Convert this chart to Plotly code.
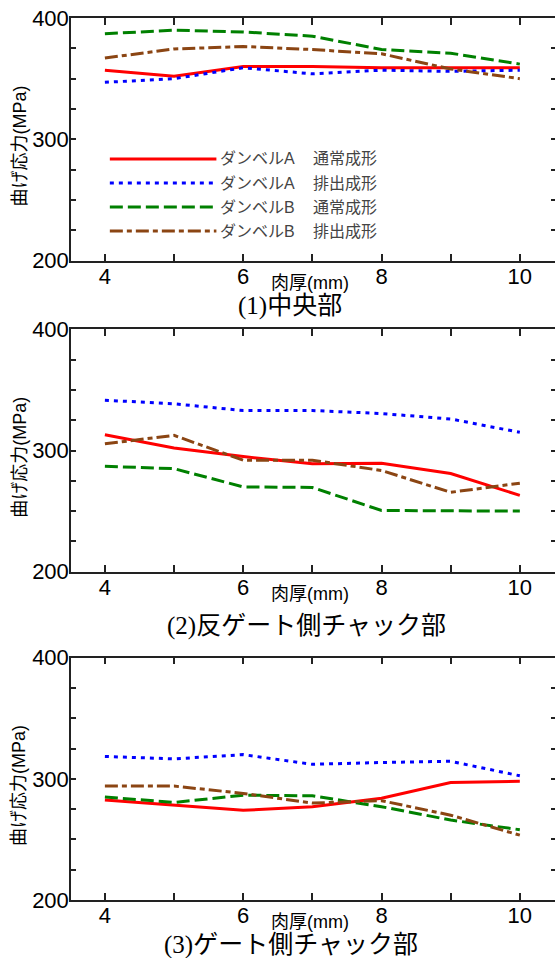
import plotly.graph_objects as go

# ---------------- data ----------------
thickness = [4, 5, 6, 7, 8, 9, 10]
x_tick_vals = [4, 5, 6, 7, 8, 9, 10]
x_tick_text = ["4", "", "6", "", "8", "", "10"]
y_tick_vals = [200, 225, 250, 275, 300, 325, 350, 375, 400]
y_tick_text = ["200", "", "", "", "300", "", "", "", "400"]

series_dumbbell = ["ダンベルA", "ダンベルA", "ダンベルB", "ダンベルB"]
series_method = ["通常成形", "排出成形", "通常成形", "排出成形"]

panel_titles = ["(1)中央部", "(2)反ゲート側チャック部", "(3)ゲート側チャック部"]
y_title = "曲げ応力(MPa)"
x_title = "肉厚(mm)"

# (1) 中央部
center_A_normal = [357, 352, 360, 360, 359, 359, 359]
center_A_eject = [347, 350, 359, 354, 357, 356, 357]
center_B_normal = [387, 390, 388.5, 385, 374, 371, 362]
center_B_eject = [367, 374.5, 376.5, 374, 370.5, 358, 350]

# (2) 反ゲート側チャック部
opp_A_normal = [313, 302, 295, 289, 289.5, 281, 263]
opp_A_eject = [341.5, 338.5, 333, 333, 330.5, 326, 315]
opp_B_normal = [287, 285, 270, 269.5, 250.5, 250.5, 250]
opp_B_eject = [305.5, 312.5, 292, 292, 283.5, 265.5, 273]

# (3) ゲート側チャック部
gate_A_normal = [282.5, 278.5, 274, 277, 284, 297, 298]
gate_A_eject = [318.5, 316.5, 320, 312, 313.5, 314.5, 302.5]
gate_B_normal = [285, 280.5, 286.5, 286, 277, 266, 258]
gate_B_eject = [294, 294, 288, 280, 282, 270, 253.5]

panels = [
    [center_A_normal, center_A_eject, center_B_normal, center_B_eject],
    [opp_A_normal, opp_A_eject, opp_B_normal, opp_B_eject],
    [gate_A_normal, gate_A_eject, gate_B_normal, gate_B_eject],
]

# ---------------- styles ----------------
colors = ["#ff0000", "#0000ff", "#008000", "#8b4513"]
dashes = ["solid", "4px,5px", "13px,5px", "13px,4px,5px,4px"]
LINE_W = 3

# figure is slightly wider than the window so the right frame falls just off-screen
W, H = 558, 958
ML, MT, MR = 71, 18, 0
MB = H - 900
PW = W - ML - MR
PH = H - MT - MB
X_RANGE = [3.51, 10.523]


def px(xp):
    """window pixel x -> paper x"""
    return (xp - ML) / PW


def py(yp):
    """window pixel y -> paper y"""
    return (H - MB - yp) / PH


# panel window-pixel boxes (top, bottom)
panel_px = [(18, 260.7), (329.3, 571.7), (657.7, 900)]

SANS = "Liberation Sans, Arial, Noto Sans CJK JP, sans-serif"
SERIF = "Liberation Serif, Times New Roman, Noto Sans CJK JP, serif"

fig = go.Figure()

for i, data in enumerate(panels):
    suffix = "" if i == 0 else str(i + 1)
    for j, vals in enumerate(data):
        fig.add_trace(go.Scatter(
            x=thickness, y=vals, mode="lines",
            name=series_dumbbell[j] + "　" + series_method[j],
            line=dict(color=colors[j], width=LINE_W, dash=dashes[j]),
            xaxis="x" + suffix, yaxis="y" + suffix,
            showlegend=False,
        ))

axis_common = dict(
    showline=True, linecolor="#222", linewidth=1.5, mirror="ticks",
    ticks="inside", tickcolor="#222", tickwidth=1.5,
    showgrid=False, zeroline=False,
    tickfont=dict(family=SANS, size=22, color="#000"),
)

layout = dict(
    width=W, height=H,
    margin=dict(l=ML, r=MR, t=MT, b=MB, pad=0),
    paper_bgcolor="white", plot_bgcolor="white",
    showlegend=False,
)

for i, (top, bot) in enumerate(panel_px):
    suffix = "" if i == 0 else str(i + 1)
    layout["xaxis" + suffix] = dict(
        axis_common, range=X_RANGE, domain=[0, 1],
        anchor="y" + suffix,
        tickvals=x_tick_vals, ticktext=x_tick_text, ticklen=7,
        ticklabelstandoff=-5,
    )
    layout["yaxis" + suffix] = dict(
        axis_common, range=[200, 400],
        domain=[max(0, py(bot)), min(1, py(top))],
        anchor="x" + suffix,
        tickvals=y_tick_vals, ticktext=y_tick_text, ticklen=5,
        ticklabelstandoff=-4,
    )

fig.update_layout(**layout)

annotations = []
title_pos = [(291, 306), (307, 626), (292, 945)]
for i, (top, bot) in enumerate(panel_px):
    # y-axis title
    annotations.append(dict(
        text=y_title, xref="paper", yref="paper",
        x=px(19.5), y=py((top + bot) / 2 + 6.5),
        xanchor="center", yanchor="middle", textangle=-90, showarrow=False,
        font=dict(family=SANS, size=18, color="#000"),
    ))
    # x-axis title
    annotations.append(dict(
        text=x_title, xref="paper", yref="paper",
        x=px(311), y=py(bot + 22),
        xanchor="center", yanchor="middle", showarrow=False,
        font=dict(family=SANS, size=18, color="#000"),
    ))
    # panel title
    tx, ty = title_pos[i]
    annotations.append(dict(
        text=panel_titles[i], xref="paper", yref="paper",
        x=px(tx), y=py(ty),
        xanchor="center", yanchor="middle", showarrow=False,
        font=dict(family=SERIF, size=25, color="#000"),
    ))

# legend (drawn inside panel 1)
legend_rows = [159, 183, 207, 231]
shapes = []
for j, ry in enumerate(legend_rows):
    shapes.append(dict(
        type="line", xref="paper", yref="paper",
        x0=px(110), x1=px(217), y0=py(ry), y1=py(ry),
        line=dict(color=colors[j], width=LINE_W, dash=dashes[j]),
    ))
    annotations.append(dict(
        text=series_dumbbell[j], xref="paper", yref="paper",
        x=px(219), y=py(ry), xanchor="left", yanchor="middle", showarrow=False,
        font=dict(family=SANS, size=16, color="#444"),
    ))
    annotations.append(dict(
        text=series_method[j], xref="paper", yref="paper",
        x=px(312), y=py(ry), xanchor="left", yanchor="middle", showarrow=False,
        font=dict(family=SANS, size=16, color="#444"),
    ))

fig.update_layout(annotations=annotations, shapes=shapes)

# remove the default 8px page margin so the figure fills the window exactly
fig.write_html(
    "out.html",
    config={"displayModeBar": False},
    post_script="document.body.style.margin='0px';document.body.style.overflow='hidden';",
)
